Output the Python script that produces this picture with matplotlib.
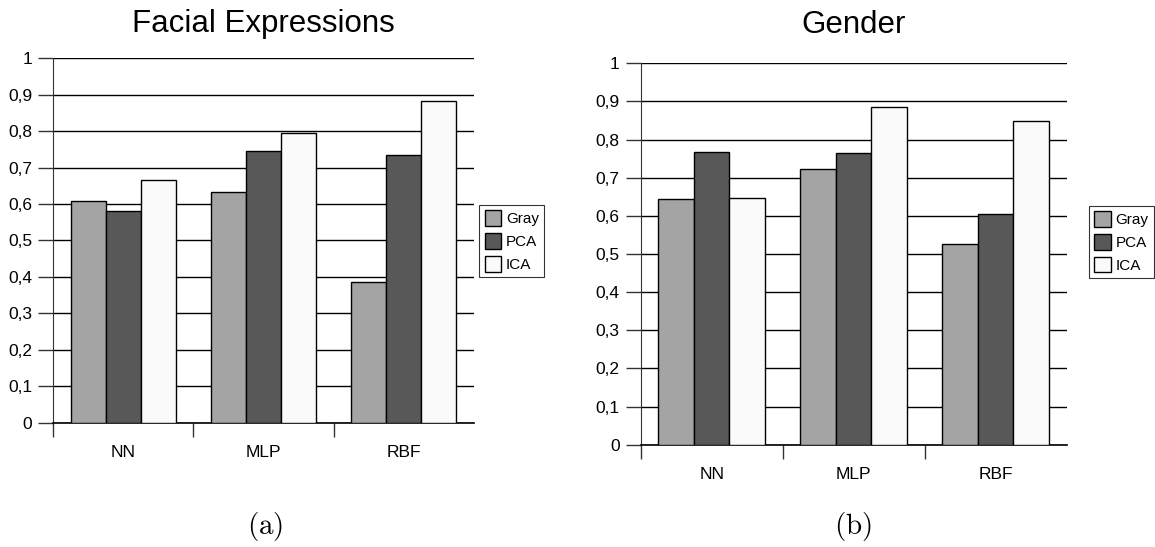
import numpy as np
import matplotlib
matplotlib.use("Agg")
import matplotlib.pyplot as plt
from matplotlib.ticker import FixedLocator

plt.rcParams["font.family"] = ["Liberation Sans", "DejaVu Sans"]
plt.rcParams["mathtext.fontset"] = "cm"

# ============================
#  DATA
# ============================
categorias = ["NN", "MLP", "RBF"]
metodos = ["Gray", "PCA", "ICA"]

facial_gray = [0.608, 0.634, 0.385]
facial_pca  = [0.580, 0.746, 0.734]
facial_ica  = [0.665, 0.794, 0.884]

gender_gray = [0.643, 0.722, 0.526]
gender_pca  = [0.767, 0.764, 0.604]
gender_ica  = [0.646, 0.885, 0.848]

yticks = [0, 0.1, 0.2, 0.3, 0.4, 0.5, 0.6, 0.7, 0.8, 0.9, 1.0]
ytick_labels = ["0", "0,1", "0,2", "0,3", "0,4", "0,5", "0,6", "0,7", "0,8", "0,9", "1"]

CORES = ["#a4a4a4", "#585858", "#fafafa"]

W, H = 1155, 547
fig = plt.figure(figsize=(W / 100, H / 100), dpi=100)


def painel(rect, series, titulo, title_pad, legend_xy, caption, caption_x):
    ax = fig.add_axes(rect)
    x = np.arange(len(categorias))
    w = 0.25
    for i, (vals, cor, nome) in enumerate(zip(series, CORES, metodos)):
        ax.bar(x + (i - 1) * w, vals, width=w, color=cor, edgecolor="black",
               linewidth=1.0, label=nome, zorder=3)
    ax.set_xlim(-0.5, 2.5)
    ax.set_ylim(0, 1)
    ax.set_yticks(yticks)
    ax.set_yticklabels(ytick_labels, fontsize=12.5)
    ax.yaxis.grid(True, color="black", linewidth=1.0, zorder=0)
    ax.set_axisbelow(True)
    ax.tick_params(axis="y", length=11, width=1, color="#333333", pad=4)

    ax.set_xticks(x)
    ax.set_xticklabels(categorias, fontsize=12.5)
    ax.tick_params(axis="x", which="major", length=0, pad=16)
    ax.xaxis.set_minor_locator(FixedLocator([-0.5, 0.5, 1.5]))
    ax.tick_params(axis="x", which="minor", length=10, width=1, color="#333333")

    for s in ["top", "right"]:
        ax.spines[s].set_visible(False)
    ax.spines["left"].set_color("#333333")
    ax.spines["bottom"].set_linewidth(1.2)
    ax.set_title(titulo, fontsize=22.5, pad=title_pad)

    leg = ax.legend(loc="upper left", bbox_to_anchor=legend_xy,
                    bbox_transform=fig.transFigure, fontsize=11,
                    frameon=True, fancybox=False, edgecolor="black",
                    handlelength=1.1, handleheight=1.2, handletextpad=0.3,
                    labelspacing=0.45, borderpad=0.35, borderaxespad=0)
    leg.get_frame().set_linewidth(0.8)

    fig.text(caption_x, 0.037, caption, fontsize=21, ha="center", va="center")
    return ax


painel([53 / W, 1 - 422.7 / H, 421 / W, 364.4 / H],
       [facial_gray, facial_pca, facial_ica], "Facial Expressions", 19,
       (479.3 / W, 1 - 205 / H), r"$(\mathrm{a})$", 265.5 / W)

painel([640.7 / W, 1 - 444.7 / H, 426 / W, 381.4 / H],
       [gender_gray, gender_pca, gender_ica], "Gender", 21.5,
       (1089 / W, 1 - 205.7 / H), r"$(\mathrm{b})$", 853 / W)

fig.savefig("out.png", dpi=100)
